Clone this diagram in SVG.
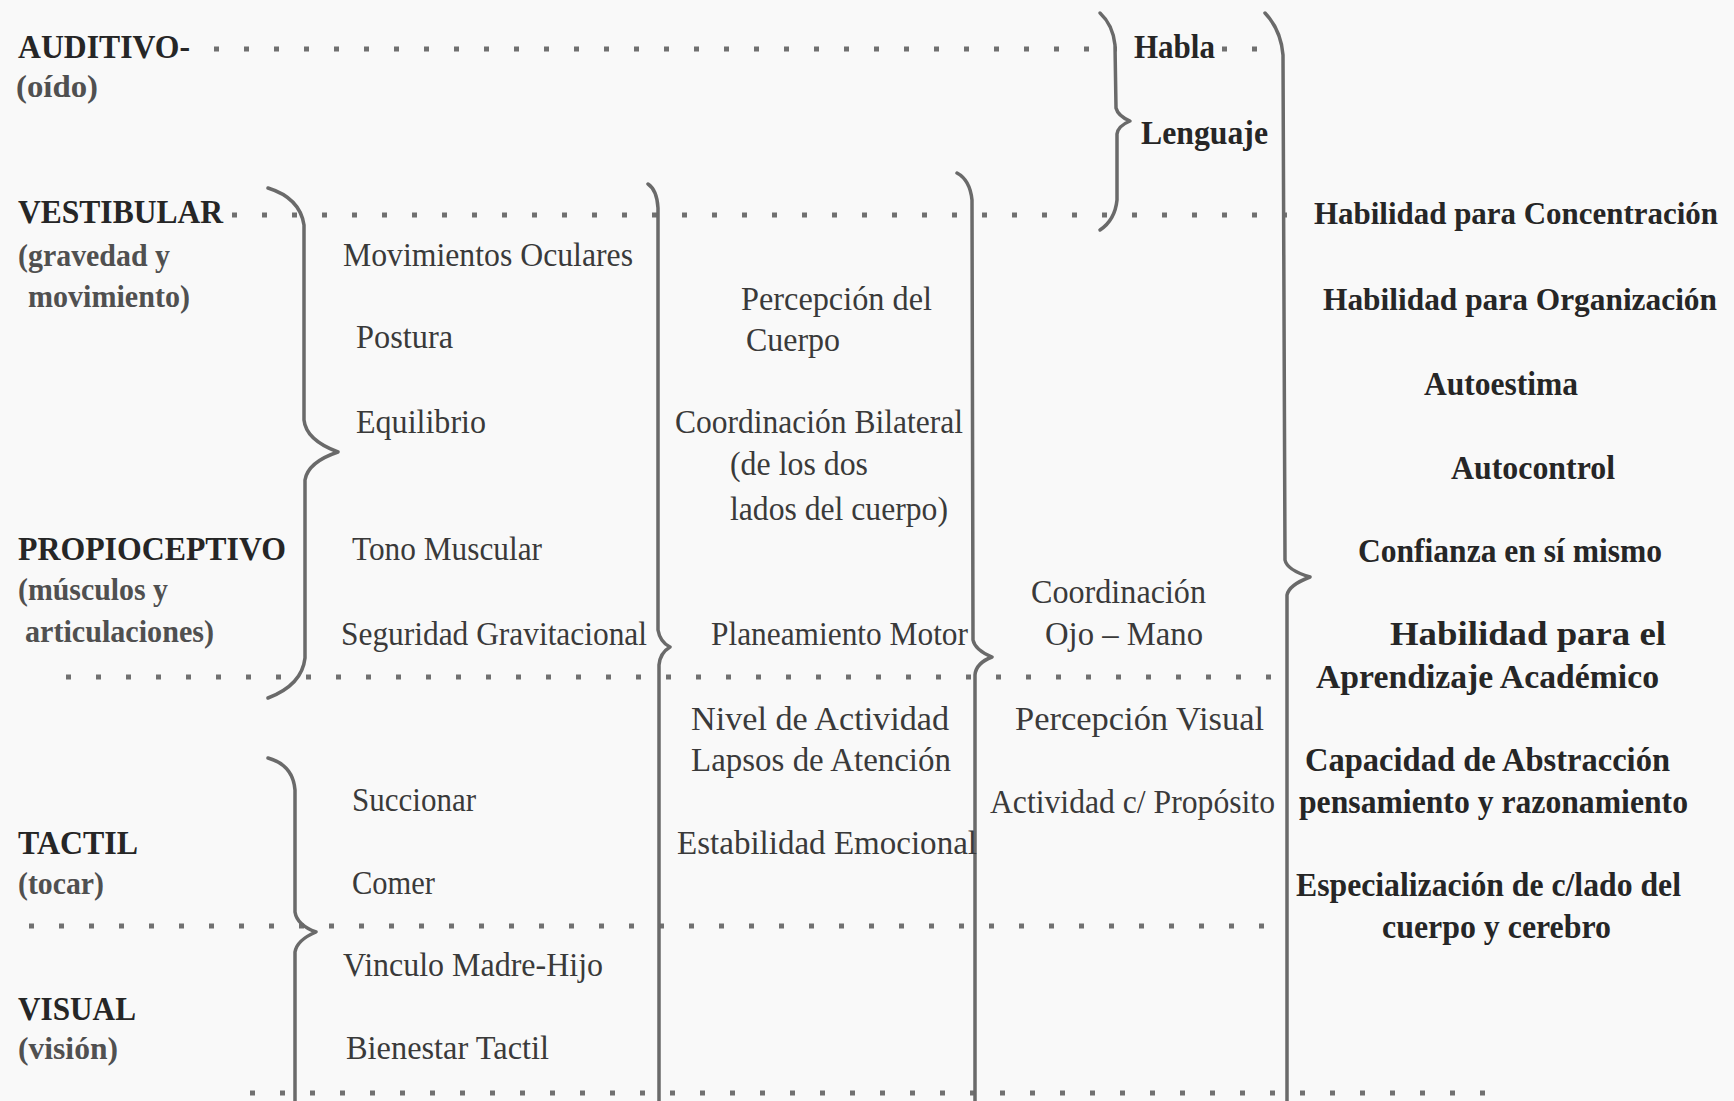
<svg xmlns="http://www.w3.org/2000/svg" width="1734" height="1101" viewBox="0 0 1734 1101">
<style>
.lbl{font-family:"Liberation Serif","Times New Roman",serif;font-weight:bold;font-size:34px;fill:#262626}
.sub{font-family:"Liberation Serif","Times New Roman",serif;font-weight:bold;font-size:32px;fill:#505050}
.t{font-family:"Liberation Serif","Times New Roman",serif;font-size:34px;fill:#3a3a3a}
.b{font-family:"Liberation Serif","Times New Roman",serif;font-weight:bold;font-size:34px;fill:#262626}
.bs{font-size:31px}
.dot{fill:none;stroke:#707070;stroke-width:5;stroke-dasharray:5 25}
.br{fill:none;stroke:#6a6a6a;stroke-width:3.5;stroke-linecap:round;stroke-linejoin:round}
</style>
<rect width="1734" height="1101" fill="#f9f9f9"/>
<g id="connectors">
<path class="dot" d="M214 49H1117M1222 49H1275"/>
<path class="dot" d="M232 215H1296"/>
<path class="dot" d="M66 677H1272"/>
<path class="dot" d="M29 926H1272"/>
<path class="dot" d="M250 1093H1500"/>
<path class="br" d="M268 188Q300 198 304 225L304 420Q306 440 338 452Q308 462 305 480L305 658Q302 685 268 698"/>
<path class="br" d="M268 758Q293 765 295 790L295 912Q297 925 316 932Q297 940 295 952L295 1101"/>
<path class="br" d="M648 184Q657 190 658 208L658 630Q660 642 670 647Q660 653 659 665L659 1101"/>
<path class="br" d="M957 173Q970 180 972 200L973 640Q975 650 992 657Q976 663 975 675L975 1101"/>
<path class="br" d="M1100 13Q1113 25 1115 45L1116 108Q1118 116 1130 121Q1118 126 1117 134L1117 200Q1115 220 1100 230"/>
<path class="br" d="M1265 13Q1281 30 1283 55L1285 560Q1287 570 1310 577Q1289 585 1287 595L1287 1101"/>
</g>
<g id="sense-labels">
<g id="auditivo"><text class="lbl" x="18" y="58" textLength="172" lengthAdjust="spacingAndGlyphs">AUDITIVO-</text><text class="sub" x="16" y="97" textLength="82" lengthAdjust="spacingAndGlyphs">(oído)</text></g>
<g id="vestibular"><text class="lbl" x="18" y="223" textLength="205" lengthAdjust="spacingAndGlyphs">VESTIBULAR</text><text class="sub" x="18" y="266" textLength="152" lengthAdjust="spacingAndGlyphs">(gravedad y</text><text class="sub" x="28" y="307" textLength="162" lengthAdjust="spacingAndGlyphs">movimiento)</text></g>
<g id="propioceptivo"><text class="lbl" x="18" y="560" textLength="268" lengthAdjust="spacingAndGlyphs">PROPIOCEPTIVO</text><text class="sub" x="18" y="600" textLength="150" lengthAdjust="spacingAndGlyphs">(músculos y</text><text class="sub" x="25" y="642" textLength="189" lengthAdjust="spacingAndGlyphs">articulaciones)</text></g>
<g id="tactil"><text class="lbl" x="18" y="854" textLength="120" lengthAdjust="spacingAndGlyphs">TACTIL</text><text class="sub" x="18" y="894" textLength="86" lengthAdjust="spacingAndGlyphs">(tocar)</text></g>
<g id="visual"><text class="lbl" x="18" y="1020" textLength="118" lengthAdjust="spacingAndGlyphs">VISUAL</text><text class="sub" x="18" y="1059" textLength="100" lengthAdjust="spacingAndGlyphs">(visión)</text></g>
</g>
<g id="level-1">
<text class="t" x="343" y="266" textLength="290" lengthAdjust="spacingAndGlyphs">Movimientos Oculares</text>
<text class="t" x="356" y="348" textLength="97" lengthAdjust="spacingAndGlyphs">Postura</text>
<text class="t" x="356" y="433" textLength="130" lengthAdjust="spacingAndGlyphs">Equilibrio</text>
<text class="t" x="352" y="560" textLength="190" lengthAdjust="spacingAndGlyphs">Tono Muscular</text>
<text class="t" x="341" y="645" textLength="306" lengthAdjust="spacingAndGlyphs">Seguridad Gravitacional</text>
<text class="t" x="352" y="811" textLength="124" lengthAdjust="spacingAndGlyphs">Succionar</text>
<text class="t" x="352" y="894" textLength="83" lengthAdjust="spacingAndGlyphs">Comer</text>
<text class="t" x="343" y="976" textLength="260" lengthAdjust="spacingAndGlyphs">Vinculo Madre-Hijo</text>
<text class="t" x="346" y="1059" textLength="203" lengthAdjust="spacingAndGlyphs">Bienestar Tactil</text>
</g>
<g id="level-2">
<text class="t" x="741" y="310" textLength="191" lengthAdjust="spacingAndGlyphs">Percepción del</text>
<text class="t" x="746" y="351" textLength="94" lengthAdjust="spacingAndGlyphs">Cuerpo</text>
<text class="t" x="675" y="433" textLength="288" lengthAdjust="spacingAndGlyphs">Coordinación Bilateral</text>
<text class="t" x="730" y="475" textLength="138" lengthAdjust="spacingAndGlyphs">(de los dos</text>
<text class="t" x="730" y="520" textLength="218" lengthAdjust="spacingAndGlyphs">lados del cuerpo)</text>
<text class="t" x="711" y="645" textLength="257" lengthAdjust="spacingAndGlyphs">Planeamiento Motor</text>
<text class="t" x="691" y="730" textLength="258" lengthAdjust="spacingAndGlyphs">Nivel  de  Actividad</text>
<text class="t" x="691" y="771" textLength="260" lengthAdjust="spacingAndGlyphs">Lapsos  de  Atención</text>
<text class="t" x="677" y="854" textLength="300" lengthAdjust="spacingAndGlyphs">Estabilidad   Emocional</text>
</g>
<g id="level-3">
<text class="t" x="1031" y="603" textLength="175" lengthAdjust="spacingAndGlyphs">Coordinación</text>
<text class="t" x="1045" y="645" textLength="158" lengthAdjust="spacingAndGlyphs">Ojo – Mano</text>
<text class="t" x="1015" y="730" textLength="249" lengthAdjust="spacingAndGlyphs">Percepción   Visual</text>
<text class="t" x="990" y="813" textLength="285" lengthAdjust="spacingAndGlyphs">Actividad c/ Propósito</text>
<text class="b" x="1134" y="58" textLength="81" lengthAdjust="spacingAndGlyphs">Habla</text>
<text class="b" x="1141" y="144" textLength="127" lengthAdjust="spacingAndGlyphs">Lenguaje</text>
</g>
<g id="level-4">
<text class="b bs" x="1314" y="224" textLength="404" lengthAdjust="spacingAndGlyphs">Habilidad para Concentración</text>
<text class="b bs" x="1323" y="310" textLength="394" lengthAdjust="spacingAndGlyphs">Habilidad para Organización</text>
<text class="b" x="1424" y="395" textLength="154" lengthAdjust="spacingAndGlyphs">Autoestima</text>
<text class="b" x="1451" y="479" textLength="164" lengthAdjust="spacingAndGlyphs">Autocontrol</text>
<text class="b" x="1358" y="562" textLength="304" lengthAdjust="spacingAndGlyphs">Confianza en sí mismo</text>
<text class="b" x="1390" y="645" textLength="276" lengthAdjust="spacingAndGlyphs">Habilidad para  el</text>
<text class="b" x="1316" y="688" textLength="343" lengthAdjust="spacingAndGlyphs">Aprendizaje   Académico</text>
<text class="b" x="1305" y="771" textLength="365" lengthAdjust="spacingAndGlyphs">Capacidad  de Abstracción</text>
<text class="b" x="1299" y="813" textLength="389" lengthAdjust="spacingAndGlyphs">pensamiento y razonamiento</text>
<text class="b" x="1296" y="896" textLength="385" lengthAdjust="spacingAndGlyphs">Especialización de c/lado del</text>
<text class="b" x="1382" y="938" textLength="229" lengthAdjust="spacingAndGlyphs">cuerpo y cerebro</text>
</g>
</svg>
